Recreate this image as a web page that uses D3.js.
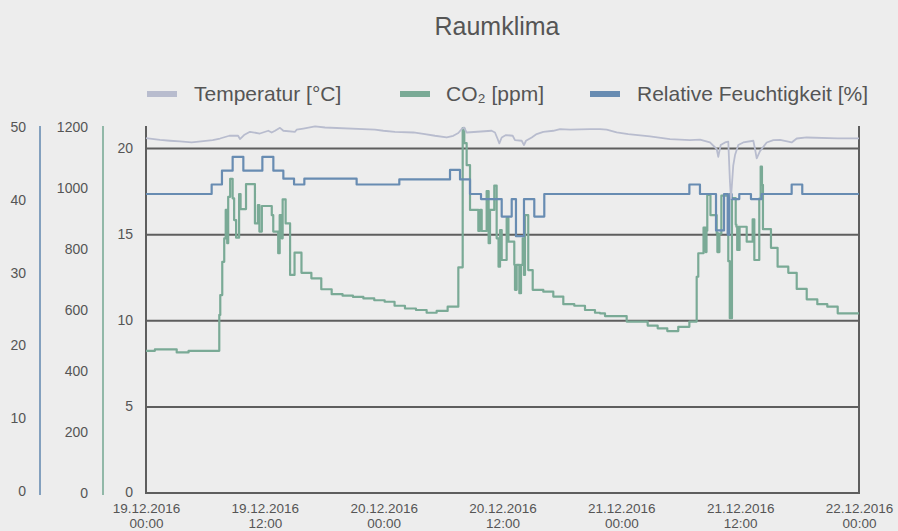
<!DOCTYPE html>
<html>
<head>
<meta charset="utf-8">
<script src="https://cdn.jsdelivr.net/npm/d3@7"></script>
<style>
  body { margin: 0; background: #ededed; }
  svg { display: block; font-family: "Liberation Sans", Arial, sans-serif; }
</style>
</head>
<body>
<svg id="chart" width="898" height="531"></svg>
<script>
// ---------------- DATA ----------------
const chartTitle = "Raumklima";
const seriesNames = ["Temperatur [°C]", "CO₂ [ppm]", "Relative Feuchtigkeit [%]"];
const startDate = new Date(2016, 11, 19, 0, 0);   // 19.12.2016 00:00
const spanHours = 72;
const xTickHours = [0, 12, 24, 36, 48, 60, 72];
const tempTicks = [0, 5, 10, 15, 20];
const co2Ticks = [0, 200, 400, 600, 800, 1000, 1200];
const humTicks = [0, 10, 20, 30, 40, 50];

// [hours since start, value]
const temperature = [
  [0,20.6],[1.41,20.5],[2.42,20.45],[3.43,20.41],[4.61,20.35],[6.73,20.49],[7.47,20.58],
  [8.42,20.74],[9.3,20.74],[9.49,20.55],[9.9,20.78],[10.5,20.97],[11.5,20.87],[12.35,21.03],
  [12.69,20.93],[13.03,21.03],[13.53,21.2],[13.87,21.03],[15.05,20.97],[15.21,21.09],
  [15.89,21.16],[17.07,21.28],[18.08,21.22],[23.12,21.09],[23.97,21.03],[25.14,20.97],
  [27.0,20.93],[28.17,20.84],[29.18,20.74],[30.36,20.64],[31.03,20.74],[31.54,20.9],
  [31.88,21.13],[32.11,21.22],[32.38,20.93],[34.9,21.03],[35.24,20.93],[35.51,20.55],
  [35.68,20.3],[35.92,20.64],[36.35,20.78],[37.03,20.74],[37.26,20.49],[37.94,20.45],
  [38.17,20.2],[38.37,20.45],[38.95,20.64],[39.45,20.84],[40.12,20.97],[41.13,21.03],
  [41.81,21.13],[42.82,21.1],[44.84,21.13],[45.84,21.13],[46.52,21.09],[47.53,20.93],
  [48.7,20.84],[50.89,20.7],[52.91,20.55],[54.93,20.49],[55.94,20.52],[56.95,20.35],
  [57.63,19.97],[57.79,19.52],[58.03,20.2],[58.47,20.35],[58.8,20.4],[58.97,18.04],
  [59.07,17.1],[59.3,19.0],[59.48,19.62],[59.81,20.2],[60.31,20.35],[61.33,20.45],
  [61.5,19.97],[61.67,19.43],[62.0,19.85],[62.68,20.35],[63.35,20.49],[64.02,20.5],
  [64.86,20.4],[65.2,20.35],[65.71,20.58],[66.72,20.64],[69.85,20.59],[72,20.59]
];

const co2 = [
  [0,466],[0.9,471],[3.1,461],[4.3,466],[7.4,584],[7.5,649],[7.7,758],[7.9,835],[8.05,928],
  [8.2,819],[8.3,971],[8.5,1030],[8.75,966],[8.9,895],[9.1,837],[9.4,980],[9.55,931],
  [10.1,1013],[11.0,884],[11.3,944],[11.45,857],[11.7,941],[12.7,911],[12.85,857],
  [13.35,786],[13.5,911],[13.7,835],[13.8,963],[14.1,884],[14.55,715],[15.0,788],
  [15.7,722],[16.7,704],[17.7,668],[18.75,652],[19.85,647],[20.9,643],[21.95,638],
  [23.05,632],[24.1,627],[25.1,614],[26.15,605],[27.26,600],[28.34,591],[29.35,597],
  [30.46,611],[31.54,740],[31.98,1196],[32.14,1147],[32.38,1075],[32.72,928],[33.56,859],
  [33.73,928],[33.9,859],[34.4,990],[34.6,819],[34.74,928],[35.17,1008],[35.41,835],
  [35.6,742],[35.75,862],[35.92,764],[36.42,901],[36.6,824],[37.19,748],[37.26,666],
  [37.43,748],[37.7,655],[37.87,748],[38.04,835],[38.17,715],[38.27,911],[38.6,731],
  [39.05,666],[40.12,660],[41.13,644],[42.14,619],[43.25,614],[44.33,600],[45.34,591],
  [45.84,589],[46.35,580],[48.54,562],[50.66,549],[51.67,540],[52.64,531],[53.75,545],
  [54.87,562],[55.61,709],[55.77,786],[56.3,870],[56.38,800],[56.45,870],[56.52,790],
  [56.6,860],[56.68,977],[57.0,911],[57.63,851],[57.7,790],[57.76,851],[57.82,790],
  [57.9,850],[58.1,975],[58.8,760],[58.95,573],[59.17,967],[59.55,880],[59.62,873],
  [59.7,797],[59.78,873],[59.86,797],[59.94,873],[60.66,824],[61.26,897],[61.43,764],
  [61.93,965],[62.07,1070],[62.2,1010],[62.3,865],[63.11,804],[63.78,742],[64.86,722],
  [65.71,669],[66.72,635],[67.79,619],[68.8,611],[69.85,589],[72,589]
];

const humidity = [
  [0,40.8],[6.63,42.1],[7.67,44.0],[8.75,45.9],[9.83,44.0],[11.75,45.9],[12.86,44.0],
  [13.87,42.9],[14.95,42.1],[15.99,42.9],[21.27,42.1],[25.58,42.8],[30.7,44.1],[31.71,42.8],
  [32.72,40.8],[33.83,40.1],[35.92,37.7],[36.93,40.1],[37.36,35.0],[38.17,40.1],[39.21,37.7],
  [40.22,40.8],[54.87,42.1],[55.94,40.8],[57.56,35.8],[58.37,40.8],[58.74,35.2],[58.9,40.8],
  [59.14,40.1],[59.91,40.8],[61.09,40.1],[62.17,40.8],[65.2,42.1],[66.27,40.8],[72,40.8]
];

// ---------------- STYLE ----------------
const colTemp = "#b8bcce", colCO2 = "#7aaa96", colHum = "#688cb2";
const textCol = "#555555", frameCol = "#5e5e5e";

const svg = d3.select("#chart");
const H = h => new Date(startDate.getTime() + h * 3600000);

const x = d3.scaleTime().domain([H(0), H(spanHours)]).range([146, 859]);
const yT = d3.scaleLinear().domain([0, 20]).range([493, 148.5]);
const yC = d3.scaleLinear().domain([0, 1200]).range([493, 127]);
const yH = d3.scaleLinear().domain([0, 50]).range([491, 127]);

// Title
svg.append("text").attr("x", 497).attr("y", 35).attr("text-anchor", "middle")
  .attr("font-size", 25).attr("fill", textCol).text(chartTitle);

// Legend
const legend = [
  { name: seriesNames[0], color: colTemp, sx: 147, tx: 194 },
  { name: seriesNames[1], color: colCO2, sx: 400, tx: 446 },
  { name: seriesNames[2], color: colHum, sx: 590, tx: 637 }
];
legend.forEach(l => {
  svg.append("rect").attr("x", l.sx).attr("y", 91).attr("width", 30).attr("height", 6).attr("fill", l.color);
  svg.append("text").attr("x", l.tx).attr("y", 101).attr("font-size", 21).attr("fill", textCol).text(l.name);
});

// Gridlines
svg.append("g").selectAll("line").data(tempTicks.filter(d => d > 0)).join("line")
  .attr("x1", 146).attr("x2", 859).attr("y1", d => yT(d)).attr("y2", d => yT(d))
  .attr("stroke", frameCol).attr("stroke-width", 2);

// Frame
svg.append("line").attr("x1", 146).attr("x2", 146).attr("y1", 126).attr("y2", 494).attr("stroke", frameCol).attr("stroke-width", 2);
svg.append("line").attr("x1", 859).attr("x2", 859).attr("y1", 126).attr("y2", 494).attr("stroke", frameCol).attr("stroke-width", 2);
svg.append("line").attr("x1", 145).attr("x2", 860).attr("y1", 493).attr("y2", 493).attr("stroke", frameCol).attr("stroke-width", 2);

// Axes
function styleAxis(g) {
  g.select(".domain").remove();
  g.selectAll("text").attr("fill", textCol).attr("font-size", 14)
    .attr("font-family", "'Liberation Sans', Arial, sans-serif");
}
const intFmt = d3.format("d");
svg.append("g").attr("transform", "translate(40,0)")
  .call(d3.axisLeft(yH).tickValues(humTicks).tickFormat(intFmt).tickSize(0).tickPadding(14)).call(styleAxis);
svg.append("line").attr("x1", 40).attr("x2", 40).attr("y1", 126).attr("y2", 495).attr("stroke", colHum).attr("stroke-width", 1.6);

svg.append("g").attr("transform", "translate(103,0)")
  .call(d3.axisLeft(yC).tickValues(co2Ticks).tickFormat(intFmt).tickSize(0).tickPadding(15)).call(styleAxis);
svg.append("line").attr("x1", 103).attr("x2", 103).attr("y1", 126).attr("y2", 495).attr("stroke", colCO2).attr("stroke-width", 1.6);

svg.append("g").attr("transform", "translate(146,0)")
  .call(d3.axisLeft(yT).tickValues(tempTicks).tickFormat(intFmt).tickSize(0).tickPadding(13)).call(styleAxis)
  .selectAll("text").attr("dy", "0.28em");

const fmtDate = d3.timeFormat("%d.%m.%Y"), fmtTime = d3.timeFormat("%H:%M");
const xa = svg.append("g").attr("transform", "translate(0,493)")
  .call(d3.axisBottom(x).tickValues(xTickHours.map(H)).tickSize(0).tickFormat(""));
xa.select(".domain").remove();
xa.selectAll(".tick text").remove();
xa.selectAll(".tick").each(function(d) {
  const g = d3.select(this);
  [[fmtDate(d), 20], [fmtTime(d), 35]].forEach(([s, yy]) => {
    g.append("text").attr("x", 0).attr("y", yy).attr("text-anchor", "middle")
      .attr("fill", textCol).attr("font-size", 13.5)
      .attr("font-family", "'Liberation Sans', Arial, sans-serif").text(s);
  });
});

// Series
const lineC = d3.line().x(d => x(H(d[0]))).y(d => yC(d[1])).curve(d3.curveStepAfter);
const lineH = d3.line().x(d => x(H(d[0]))).y(d => yH(d[1])).curve(d3.curveStepAfter);
const lineT = d3.line().x(d => x(H(d[0]))).y(d => yT(d[1]));

svg.append("path").datum(co2).attr("d", lineC).attr("fill", "none").attr("stroke", colCO2).attr("stroke-width", 2.2).attr("stroke-linejoin", "round");
svg.append("path").datum(humidity).attr("d", lineH).attr("fill", "none").attr("stroke", colHum).attr("stroke-width", 2.2).attr("stroke-linejoin", "round");
svg.append("path").datum(temperature).attr("d", lineT).attr("fill", "none").attr("stroke", colTemp).attr("stroke-width", 1.8).attr("stroke-linejoin", "round");
</script>
</body>
</html>
